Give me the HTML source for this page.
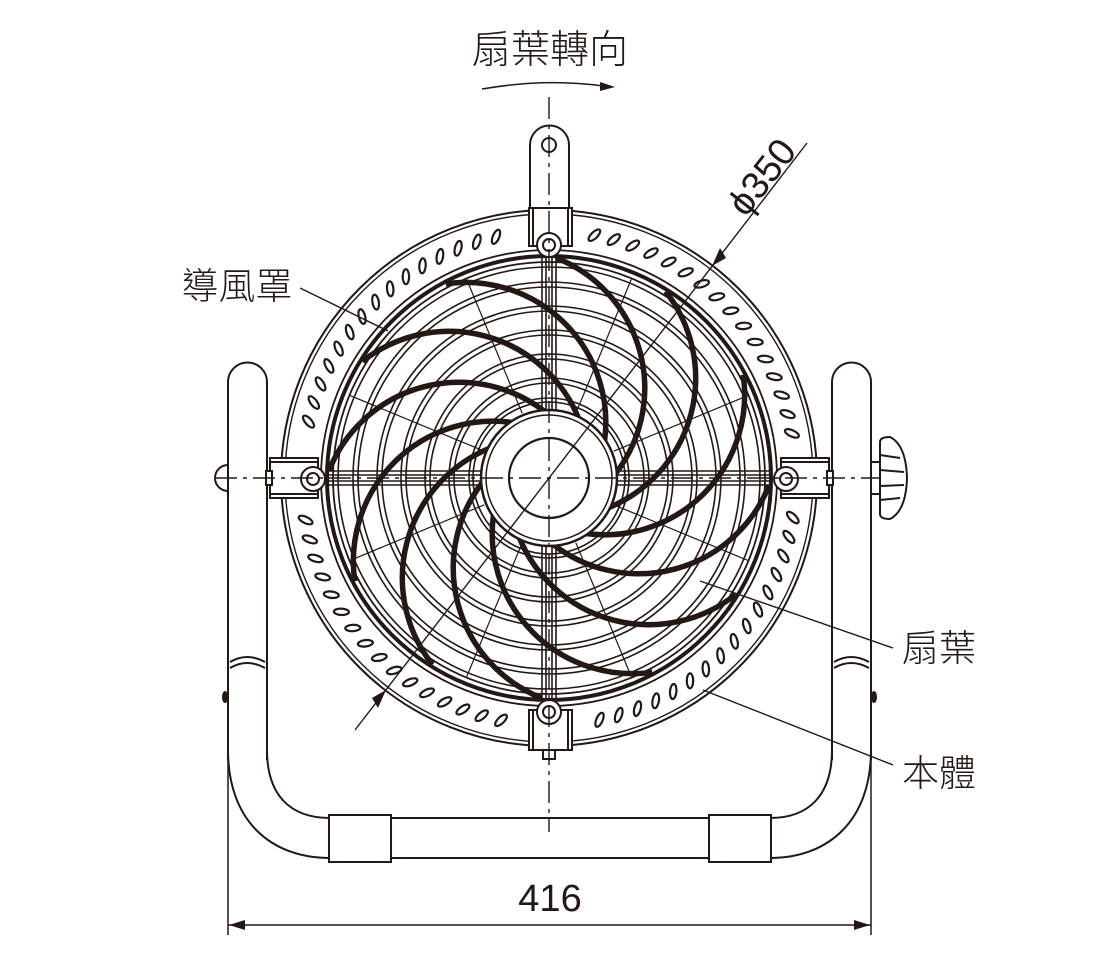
<!DOCTYPE html>
<html><head><meta charset="utf-8">
<style>
html,body{margin:0;padding:0;background:#fff;}
svg{display:block;}
text{font-family:"Liberation Sans","Noto Sans CJK TC",sans-serif;fill:#231815;}
</style></head>
<body>
<svg id="s" width="1100" height="960" viewBox="0 0 1100 960" xmlns="http://www.w3.org/2000/svg" fill="none" stroke="#231815" stroke-width="1.6">
<g stroke-width="2">
<path d="M228,760 L228,382 A19.5,19.5 0 0 1 267,382 L267,760"/>
<path d="M871,760 L871,382 A19.5,19.5 0 0 0 832,382 L832,760"/>
<path d="M228,750 C228,820 270,858 330,858"/>
<path d="M267,750 C267,795 290,818 330,818"/>
<path d="M871,750 C871,820 829,858 770,858"/>
<path d="M832,750 C832,795 809,818 770,818"/>
<rect x="329" y="815" width="62" height="47" fill="#fff"/>
<rect x="709" y="815" width="62" height="47" fill="#fff"/>
<line x1="391" y1="818" x2="709" y2="818"/>
<line x1="391" y1="858" x2="709" y2="858"/>
<path d="M230,662 Q247,652 265,662 M230,668 Q247,658 265,668"/>
<path d="M834,662 Q851,652 869,662 M834,668 Q851,658 869,668"/>
</g>
<ellipse cx="225" cy="697" rx="3" ry="6" fill="#231815" stroke="none"/>
<ellipse cx="874" cy="697" rx="3" ry="6" fill="#231815" stroke="none"/>
<path d="M228,465 A13,13 0 0 0 228,491" stroke-width="2"/>
<g stroke-width="2" fill="#fff">
<path d="M880,442 Q880,437 890,437 Q906,445 907,478 Q906,511 890,519 Q880,519 880,514 Z"/>
<path d="M880,455 L900,458 M880,500 L900,498 M880,470 L904,472 M880,486 L904,485" fill="none"/>
<line x1="872" y1="462" x2="880" y2="462"/><line x1="872" y1="494" x2="880" y2="494"/>
</g>
<circle cx="549" cy="478" r="268" stroke-width="2"/>
<circle cx="549" cy="478" r="264" stroke-width="1.4"/>
<circle cx="549" cy="478" r="228" stroke-width="1.8"/>
<g id="slots" fill="none" stroke-width="2.2"></g>
<circle cx="549" cy="478" r="222" stroke-width="4"/>
<circle cx="549" cy="478" r="216" stroke-width="1.8"/>
<circle cx="549" cy="478" r="211" stroke-width="1.6"/>
<g stroke-width="1.6">
<circle cx="549" cy="478" r="196"/><circle cx="549" cy="478" r="191"/>
<circle cx="549" cy="478" r="172"/><circle cx="549" cy="478" r="167"/>
<circle cx="549" cy="478" r="148"/><circle cx="549" cy="478" r="143"/>
<circle cx="549" cy="478" r="124"/><circle cx="549" cy="478" r="119"/>
<circle cx="549" cy="478" r="100"/><circle cx="549" cy="478" r="95"/>
<circle cx="549" cy="478" r="80"/><circle cx="549" cy="478" r="76"/>
</g>
<g stroke-width="1.6">
<line x1="327" y1="471" x2="771" y2="471"/><line x1="327" y1="475" x2="771" y2="475"/>
<line x1="327" y1="481" x2="771" y2="481"/><line x1="327" y1="485" x2="771" y2="485"/>
<line x1="542" y1="256" x2="542" y2="700"/><line x1="546" y1="256" x2="546" y2="700"/>
<line x1="552" y1="256" x2="552" y2="700"/><line x1="556" y1="256" x2="556" y2="700"/>
</g>
<g id="diag" stroke-width="1.2"></g>
<g id="blades" stroke-width="5.5"></g>
<circle cx="549" cy="478" r="68" fill="#fff" stroke-width="2.5"/>
<circle cx="549" cy="478" r="63" stroke-width="1.5"/>
<circle cx="549" cy="478" r="40" stroke-width="2.2"/>
<g stroke-width="2" fill="#fff">
<path d="M530,208 L530,145 A19.5,19.5 0 0 1 569,145 L569,208"/>
<circle cx="549" cy="145" r="7"/>
<rect x="529" y="208" width="43" height="38"/>
<line x1="533" y1="208" x2="533" y2="246" fill="none"/><line x1="568" y1="208" x2="568" y2="246" fill="none"/>
<circle cx="549" cy="245" r="12"/><circle cx="549" cy="245" r="6"/>
<rect x="529" y="710" width="43" height="40"/>
<line x1="533" y1="710" x2="533" y2="750" fill="none"/><line x1="568" y1="710" x2="568" y2="750" fill="none"/>
<circle cx="549" cy="712" r="12"/><circle cx="549" cy="712" r="6"/>
<rect x="543" y="750" width="12" height="9"/>
<rect x="270" y="458" width="48" height="40"/>
<line x1="270" y1="462" x2="318" y2="462" fill="none"/><line x1="270" y1="494" x2="318" y2="494" fill="none"/>
<rect x="266" y="471" width="6" height="14"/>
<circle cx="313" cy="479" r="12"/><circle cx="313" cy="479" r="6"/>
<rect x="781" y="458" width="48" height="40"/>
<line x1="781" y1="462" x2="829" y2="462" fill="none"/><line x1="781" y1="494" x2="829" y2="494" fill="none"/>
<rect x="827" y="471" width="6" height="14"/>
<circle cx="786" cy="479" r="12"/><circle cx="786" cy="479" r="6"/>
</g>
<g stroke-width="1.4" stroke-dasharray="22,6,4,6">
<line x1="215" y1="478" x2="880" y2="478"/>
<line x1="549" y1="97" x2="549" y2="832"/>
</g>
<line x1="355" y1="730" x2="807" y2="143" stroke-width="1.4"/>
<path d="M386,690 L372,698 L378,708 Z" fill="#231815" stroke="none"/>
<polygon points="712,266 726,258 720,248" fill="#231815" stroke="none"/>
<path d="M482,89 Q545,78 603,86" stroke-width="1.6"/>
<path d="M615,87 L600,82 L600,91 Z" fill="#231815" stroke="none"/>
<g stroke-width="1.4">
<line x1="300" y1="288" x2="388" y2="331"/>
<line x1="700" y1="581" x2="893" y2="648"/>
<line x1="703" y1="690" x2="893" y2="765"/>
</g>
<g stroke-width="1.5">
<line x1="228" y1="760" x2="228" y2="935"/>
<line x1="871" y1="700" x2="871" y2="935"/>
<line x1="228" y1="925" x2="871" y2="925"/>
</g>
<path d="M229,925 L245,920 L245,930 Z M870,925 L854,920 L854,930 Z" fill="#231815" stroke="none"/>
<g stroke="none">
<text x="550" y="63" font-size="39" text-anchor="middle" font-weight="300">扇葉轉向</text>
<text x="237" y="299" font-size="37" text-anchor="middle" font-weight="300">導風罩</text>
<text x="939" y="661" font-size="37" text-anchor="middle" font-weight="300">扇葉</text>
<text x="939" y="786" font-size="37" text-anchor="middle" font-weight="300">本體</text>
<text x="550" y="911" font-size="38" text-anchor="middle">416</text>
<text x="0" y="0" font-size="38" text-anchor="middle" transform="translate(772,185) rotate(-52)">ϕ350</text>
</g>
</svg>
<script>
(function(){
var NS="http://www.w3.org/2000/svg",cx=549,cy=478,d2r=Math.PI/180;
function el(t,a,p){var e=document.createElementNS(NS,t);for(var k in a)e.setAttribute(k,a[k]);p.appendChild(e);return e;}
var slots=document.getElementById('slots');
for(var a=0;a<360;a+=4.6){
  var m=a%90; if(m<9||m>81) continue;
  var r=247,x=cx+r*Math.cos(a*d2r),y=cy+r*Math.sin(a*d2r);
  el('ellipse',{cx:x.toFixed(1),cy:y.toFixed(1),rx:3.2,ry:7.5,transform:'rotate('+(a+90+35)+' '+x.toFixed(1)+' '+y.toFixed(1)+')'},slots);
}
var bl=document.getElementById('blades');
for(var i=0;i<12;i++){
  var g=-118+i*30,h=g+85;
  var x1=cx+220*Math.cos(g*d2r),y1=cy+220*Math.sin(g*d2r);
  var x2=cx+66*Math.cos(h*d2r),y2=cy+66*Math.sin(h*d2r);
  el('path',{d:'M'+x1.toFixed(1)+','+y1.toFixed(1)+' A140,140 0 0 1 '+x2.toFixed(1)+','+y2.toFixed(1)},bl);
}
var dg=document.getElementById('diag');
for(var j=0;j<8;j++){
  var t=(22.5+45*j)*d2r;
  el('line',{x1:(cx+70*Math.cos(t)).toFixed(1),y1:(cy+70*Math.sin(t)).toFixed(1),x2:(cx+215*Math.cos(t)).toFixed(1),y2:(cy+215*Math.sin(t)).toFixed(1)},dg);
}
})();
</script>
</body></html>
